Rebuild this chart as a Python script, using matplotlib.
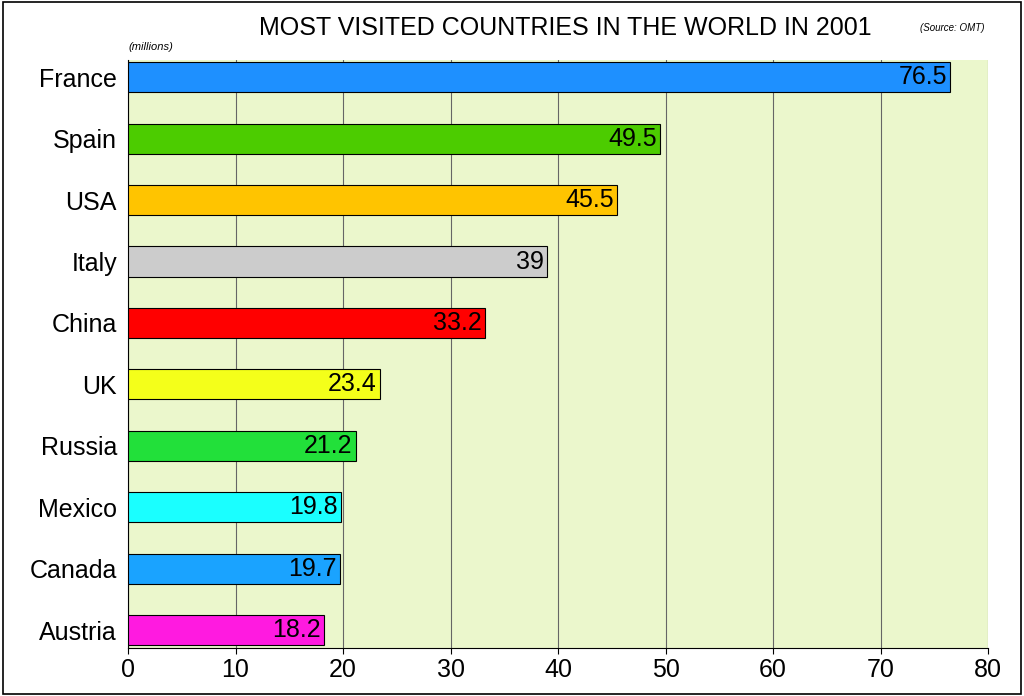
import matplotlib
matplotlib.use("Agg")
import matplotlib.pyplot as plt
from matplotlib.patches import Rectangle

countries = ["France", "Spain", "USA", "Italy", "China", "UK", "Russia", "Mexico", "Canada", "Austria"]
values = [76.5, 49.5, 45.5, 39, 33.2, 23.4, 21.2, 19.8, 19.7, 18.2]
labels = ["76.5", "49.5", "45.5", "39", "33.2", "23.4", "21.2", "19.8", "19.7", "18.2"]
colors = ["#1e90ff", "#4ccc00", "#ffc400", "#cccccc", "#ff0000", "#f4ff1a", "#22e03a", "#1affff", "#1aa3ff", "#ff1ae0"]
ticks = [0, 10, 20, 30, 40, 50, 60, 70, 80]

plt.rcParams['font.family'] = ['Liberation Sans', 'DejaVu Sans']
fig = plt.figure(figsize=(10.24, 6.96), dpi=100)
fig.patches.append(Rectangle((0.003, 0.003), 0.994, 0.994, transform=fig.transFigure,
                             fill=False, edgecolor="black", linewidth=1.2))
ax = fig.add_axes([128/1024, 48/696, 860/1024, 588/696])
ax.set_facecolor("#ebf7cc")
y = list(range(len(countries)))
ax.barh(y, values, height=0.49, color=colors, edgecolor="black", linewidth=0.8, zorder=3)
for yi, v, t in zip(y, values, labels):
    ax.text(v - 0.3, yi, t, ha="right", va="center", fontsize=18, zorder=4)
ax.set_yticks(y)
ax.set_yticklabels(countries, fontsize=18)
ax.set_ylim(9.29, -0.28)
ax.set_xlim(0, 80)
ax.set_xticks(ticks)
ax.set_xticklabels([str(t) for t in ticks], fontsize=18)
ax.xaxis.grid(True, color="#666666", linewidth=0.8, zorder=0)
ax.tick_params(axis="y", length=0, pad=8)
ax.tick_params(axis="x", length=4)
for s in ["top", "right"]:
    ax.spines[s].set_visible(False)
fig.text(0.552, 0.96, "MOST VISITED COUNTRIES IN THE WORLD IN 2001", ha="center", va="center", fontsize=18)
fig.text(0.898, 0.96, "(Source: OMT)", ha="left", va="center", fontsize=7, style="italic")
fig.text(128/1024, 0.932, "(millions)", ha="left", va="center", fontsize=8, style="italic")
fig.savefig("out.png", dpi=100)
